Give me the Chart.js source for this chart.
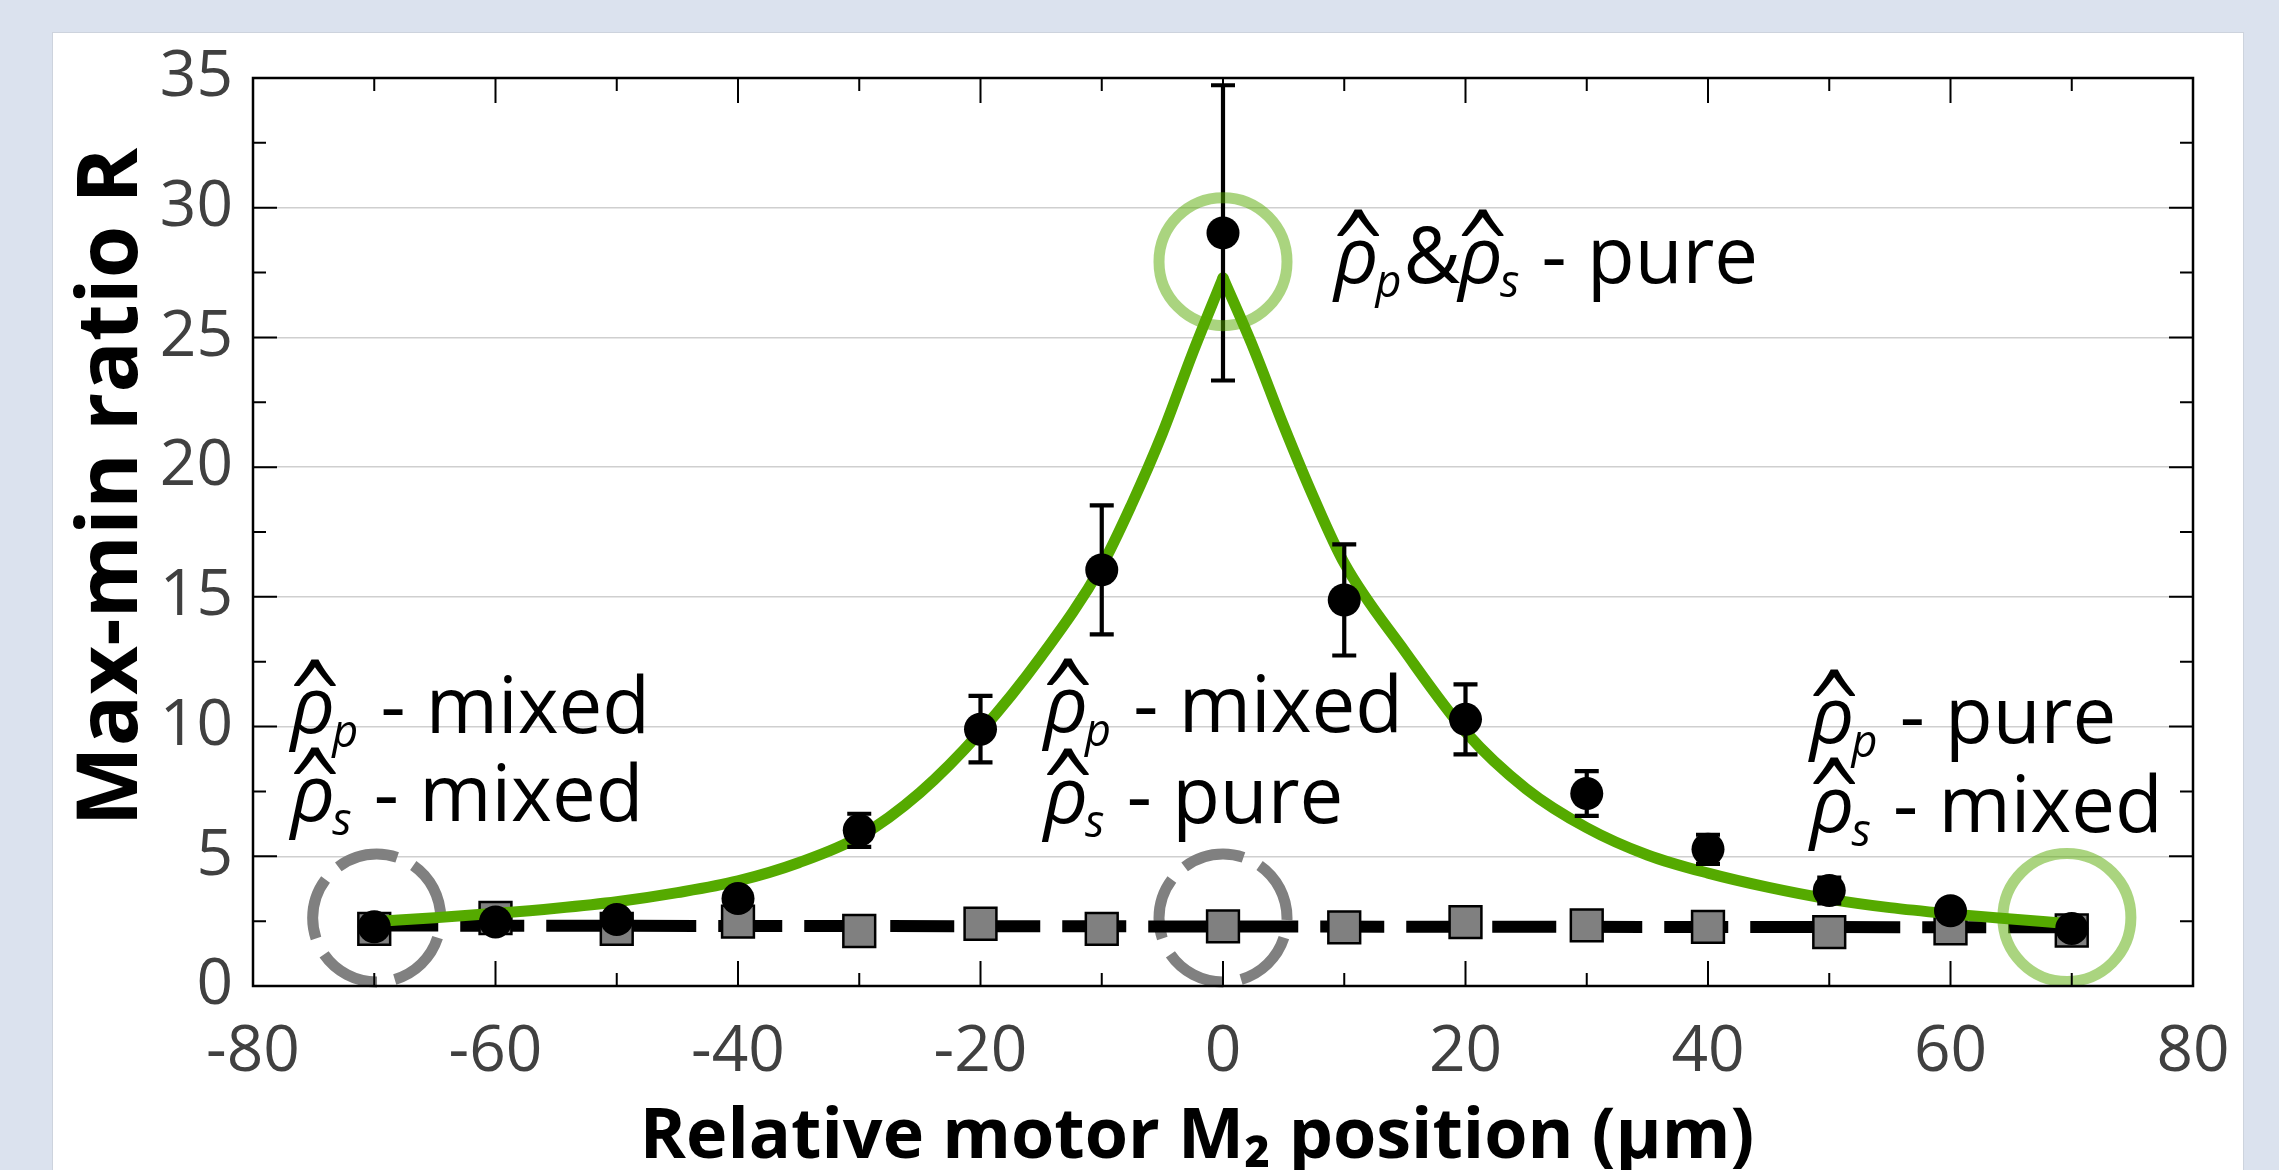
<!DOCTYPE html>
<html>
<head>
<meta charset="utf-8">
<script src="https://cdn.jsdelivr.net/npm/chart.js@4.4.1/dist/chart.umd.min.js"></script>
<style>
  html, body { margin: 0; padding: 0; }
  body { width: 2279px; height: 1170px; background: #dbe2ee; position: relative; overflow: hidden; }
  #card { position: absolute; left: 52px; top: 32px; width: 2190px; height: 1200px; background: #fff; border: 1px solid #cdd3dd; }
  #chart { position: absolute; left: 0; top: 0; }
</style>
</head>
<body>
<div id="card"></div>
<canvas id="chart" width="2279" height="1170"></canvas>
<script>
// motor positions (µm) where both ratios were measured
const positions = [-70, -60, -50, -40, -30, -20, -10, 0, 10, 20, 30, 40, 50, 60, 70];
// max-min ratio, mixed case (black dots) and its spread
const ratioMixed = [2.28, 2.47, 2.56, 3.37, 6.0, 9.9, 16.04, 29.03, 14.88, 10.28, 7.42, 5.27, 3.68, 2.9, 2.22];
const ratioMixedErr = [0.3, 0.3, 0.3, 0.35, 0.64, 1.28, 2.49, 5.69, 2.14, 1.35, 0.86, 0.56, 0.5, 0.3, 0.3];
// max-min ratio, pure case (grey squares)
const ratioPure = [2.2, 2.62, 2.2, 2.48, 2.12, 2.4, 2.2, 2.3, 2.26, 2.46, 2.34, 2.28, 2.08, 2.22, 2.14];
// straight fit through the grey squares
const pureFitX = [-70, 70];
const pureFitY = [2.33, 2.26];
// fitted curve through the black dots
const curveX = [-69.5, -65, -60, -55, -50, -45, -40, -35, -30, -25, -20, -15, -10, -7.5, -5, -2.5, 0,
                2.5, 5, 7.5, 10, 15, 20, 25, 30, 35, 40, 45, 50, 55, 60, 65, 69.3];
const curveY = [2.5, 2.63, 2.8, 3.0, 3.25, 3.6, 4.05, 4.75, 5.75, 7.45, 9.8, 12.7, 16.2, 18.6, 21.3, 24.4, 27.3,
                24.6, 21.6, 18.8, 16.3, 12.9, 9.8, 7.6, 6.1, 5.05, 4.35, 3.8, 3.35, 3.02, 2.78, 2.58, 2.42];
// highlighted points (ring centres) and which case they mark
const ringX = [-69.8, 0, 0, 69.6];
const ringY = [2.62, 2.62, 27.92, 2.64];
const ringKind = ['mixed', 'mixed', 'pure', 'pure'];
// tick labels
const xTickValues = [-80, -60, -40, -20, 0, 20, 40, 60, 80];
const yTickValues = [0, 5, 10, 15, 20, 25, 30, 35];

// text next to the rings: hatted rho with subscripts, then the rest
const notes = [
  { x: -76.9, y: 9.75, subs: ['p'], tail: ' - mixed' },
  { x: -76.9, y: 6.35, subs: ['s'], tail: ' - mixed' },
  { x: -14.8, y: 9.8, subs: ['p'], tail: ' - mixed' },
  { x: -14.8, y: 6.3, subs: ['s'], tail: ' - pure' },
  { x: 48.4, y: 9.35, subs: ['p'], tail: ' - pure' },
  { x: 48.4, y: 5.95, subs: ['s'], tail: ' - mixed' },
  { x: 9.15, y: 27.1, subs: ['p', 's'], tail: ' - pure' }
];

const FONT = '"Open Sans", "Noto Sans", sans-serif';

const dots = positions.map((p, i) => ({ x: p, y: ratioMixed[i] }));
const squares = positions.map((p, i) => ({ x: p, y: ratioPure[i] }));
const fitLine = pureFitX.map((x, i) => ({ x, y: pureFitY[i] }));
// split the curve at its peak so the cusp stays sharp
const peak = curveY.indexOf(Math.max(...curveY));
const curveLeft = curveX.slice(0, peak + 1).map((x, i) => ({ x, y: curveY[i] }));
const curveRight = curveX.slice(peak).map((x, i) => ({ x, y: curveY[peak + i] }));

function drawRings(chart, kind) {
  const { ctx, scales: { x, y } } = chart;
  ctx.save();
  ctx.lineWidth = 11;
  ringX.forEach((rx, i) => {
    if (ringKind[i] !== kind) return;
    ctx.beginPath();
    if (kind === 'mixed') {
      ctx.strokeStyle = '#808080';
      ctx.setLineDash([62, 18]);
      ctx.lineDashOffset = -20;
    } else {
      ctx.strokeStyle = 'rgba(85, 170, 0, 0.5)';
      ctx.setLineDash([]);
    }
    ctx.arc(x.getPixelForValue(rx), y.getPixelForValue(ringY[i]), 64, 0, Math.PI * 2);
    ctx.stroke();
  });
  ctx.restore();
}

function drawHatRho(ctx, px, py, size) {
  ctx.font = `italic ${size}px ${FONT}`;
  const m = ctx.measureText('ρ');
  ctx.fillText('ρ', px, py);
  const rhoLeft = px - m.actualBoundingBoxLeft;
  const rhoRight = px + m.actualBoundingBoxRight;
  const rhoTop = py - m.actualBoundingBoxAscent;
  // wide, thin hat over the rho
  ctx.save();
  ctx.font = `300 150px ${FONT}`;
  const h = ctx.measureText('ˆ');
  const hw = h.actualBoundingBoxLeft + h.actualBoundingBoxRight;
  const hh = h.actualBoundingBoxAscent + h.actualBoundingBoxDescent;
  const sx = 42 / hw, sy = 28 / hh;
  const cx = (rhoLeft + rhoRight) / 2 + 5;
  const bottom = rhoTop - 3;
  ctx.translate(cx, bottom);
  ctx.scale(sx, sy);
  ctx.fillText('ˆ', -(h.actualBoundingBoxRight - h.actualBoundingBoxLeft) / 2, -h.actualBoundingBoxDescent);
  ctx.restore();
  return m.width;
}

function drawNote(ctx, px, py, note) {
  const size = 78;
  let cur = px;
  ctx.textAlign = 'left';
  ctx.textBaseline = 'alphabetic';
  ctx.fillStyle = '#000';
  note.subs.forEach((s, k) => {
    if (k > 0) {
      ctx.font = `${size}px ${FONT}`;
      ctx.fillText('&', cur, py);
      cur += ctx.measureText('&').width - 2;
    }
    const w = drawHatRho(ctx, cur, py, size);
    cur += w - 3;
    ctx.font = `italic ${Math.round(size * 0.58)}px ${FONT}`;
    ctx.fillText(s, cur, py + 14);
    cur += ctx.measureText(s).width + 2;
  });
  ctx.font = `${size}px ${FONT}`;
  ctx.fillText(note.tail, cur, py);
}

const decorations = {
  id: 'decorations',
  beforeDatasetsDraw(chart) {
    drawRings(chart, 'mixed');
  },
  afterDatasetsDraw(chart) {
    const { ctx, scales: { x, y } } = chart;
    // error bars on the black dots
    ctx.save();
    ctx.strokeStyle = '#000';
    ctx.lineWidth = 4.2;
    positions.forEach((p, i) => {
      const e = ratioMixedErr[i];
      const px = x.getPixelForValue(p);
      const top = y.getPixelForValue(ratioMixed[i] + e);
      const bot = y.getPixelForValue(ratioMixed[i] - e);
      ctx.beginPath();
      ctx.moveTo(px, top); ctx.lineTo(px, bot);
      ctx.moveTo(px - 12, top); ctx.lineTo(px + 12, top);
      ctx.moveTo(px - 12, bot); ctx.lineTo(px + 12, bot);
      ctx.stroke();
    });
    ctx.restore();
    drawRings(chart, 'pure');
  },
  afterDraw(chart) {
    const { ctx, chartArea: a, scales: { x, y } } = chart;
    ctx.save();
    // box frame
    ctx.strokeStyle = '#000';
    ctx.lineWidth = 2.5;
    ctx.strokeRect(a.left, a.top, a.right - a.left, a.bottom - a.top);
    // inward ticks on all four sides
    ctx.lineWidth = 2;
    ctx.beginPath();
    for (let v = x.min + 10; v < x.max; v += 10) {
      const px = x.getPixelForValue(v);
      const len = v % 20 === 0 ? 25 : 13;
      ctx.moveTo(px, a.bottom); ctx.lineTo(px, a.bottom - len);
      ctx.moveTo(px, a.top); ctx.lineTo(px, a.top + len);
    }
    for (let v = y.min + 2.5; v < y.max; v += 2.5) {
      const py = y.getPixelForValue(v);
      const len = v % 5 === 0 ? 24 : 13;
      ctx.moveTo(a.left, py); ctx.lineTo(a.left + len, py);
      ctx.moveTo(a.right, py); ctx.lineTo(a.right - len, py);
    }
    ctx.stroke();

    // axis titles
    ctx.fillStyle = '#000';
    ctx.textAlign = 'center';
    ctx.textBaseline = 'middle';
    ctx.font = `bold 70px ${FONT}`;
    ctx.fillText('Relative motor M₂ position (μm)', (a.left + a.right) / 2 - 26, a.bottom + 152);
    ctx.save();
    ctx.translate(a.left - 140, (a.top + a.bottom) / 2 - 45);
    ctx.rotate(-Math.PI / 2);
    ctx.font = `bold 85px ${FONT}`;
    ctx.fillText('Max-min ratio R', 0, 0);
    ctx.restore();

    // notes
    notes.forEach(n => drawNote(ctx, x.getPixelForValue(n.x), y.getPixelForValue(n.y), n));
    ctx.restore();
  }
};

new Chart(document.getElementById('chart'), {
  type: 'scatter',
  data: {
    datasets: [
      {
        data: fitLine, showLine: true, borderColor: '#000', borderWidth: 12,
        borderDash: [64, 22], pointRadius: 0, order: 4
      },
      {
        data: squares, pointStyle: 'rect', pointRadius: 22.5, backgroundColor: '#808080',
        borderColor: '#000', borderWidth: 2.5, order: 3
      },
      {
        data: curveLeft, showLine: true, borderColor: '#55aa00', borderWidth: 11, pointRadius: 0,
        cubicInterpolationMode: 'monotone', borderCapStyle: 'round', borderJoinStyle: 'round', order: 2
      },
      {
        data: curveRight, showLine: true, borderColor: '#55aa00', borderWidth: 11, pointRadius: 0,
        cubicInterpolationMode: 'monotone', borderCapStyle: 'round', borderJoinStyle: 'round', order: 2
      },
      {
        data: dots, pointStyle: 'circle', pointRadius: 16.5, backgroundColor: '#000',
        borderWidth: 0, order: 1
      }
    ]
  },
  options: {
    responsive: false,
    animation: false,
    events: [],
    layout: { padding: { left: 0, top: 78, right: 86, bottom: 0 } },
    plugins: { legend: { display: false }, tooltip: { enabled: false } },
    scales: {
      x: {
        type: 'linear', min: -80, max: 80,
        afterBuildTicks: s => { s.ticks = xTickValues.map(v => ({ value: v })); },
        afterFit: s => { s.height = 184; },
        grid: { display: false, drawTicks: false },
        border: { display: false },
        ticks: { font: { family: FONT, size: 64 }, color: '#404040', padding: 28, maxRotation: 0, autoSkip: false }
      },
      y: {
        type: 'linear', min: 0, max: 35,
        afterBuildTicks: s => { s.ticks = yTickValues.map(v => ({ value: v })); },
        afterFit: s => { s.width = 253; },
        grid: {
          drawTicks: false, lineWidth: 1.5,
          color: c => (c.tick.value === 0 || c.tick.value === 35) ? 'rgba(0,0,0,0)' : '#cfcfcf'
        },
        border: { display: false },
        ticks: { font: { family: FONT, size: 64 }, color: '#404040', padding: 20, autoSkip: false }
      }
    }
  },
  plugins: [decorations]
});
</script>
</body>
</html>
